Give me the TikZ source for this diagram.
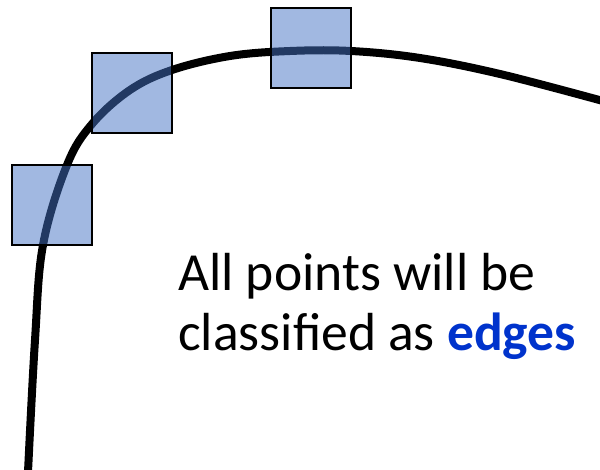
\documentclass[tikz,border=0pt]{standalone}
\usepackage{fontspec}
\setmainfont{Carlito}
\definecolor{boxblue}{RGB}{68,114,196}
\definecolor{edgeblue}{RGB}{0,51,204}
\begin{document}
\begin{tikzpicture}[x=1pt,y=-1pt,
  window/.style={draw=black, line width=1.3pt, fill=boxblue, fill opacity=0.5,
    minimum size=80pt, inner sep=0pt, outer sep=0pt},
  caption/.style={anchor=base west, inner sep=0pt, font=\fontsize{53.6}{60}\selectfont}]
\useasboundingbox (0,0) rectangle (600,469);
% the contour
\draw[line width=8pt] plot[smooth, tension=0.6] coordinates {
  (28,472) (35,340) (43,245) (67,165) (92,124) (130,90) (172,70)
  (230,56) (290,51) (351,51) (420,58) (500,74) (603,101)};
% sliding windows placed along the contour
\node[window] (w1) at (52,205) {};
\node[window] (w2) at (132,93) {};
\node[window] (w3) at (311,48) {};
% caption
\node[caption] (l1) at (178,290) {All points will be};
\node[caption] (l2) at (178,350) {classified as \textcolor{edgeblue}{\textbf{edges}}};
\end{tikzpicture}
\end{document}
